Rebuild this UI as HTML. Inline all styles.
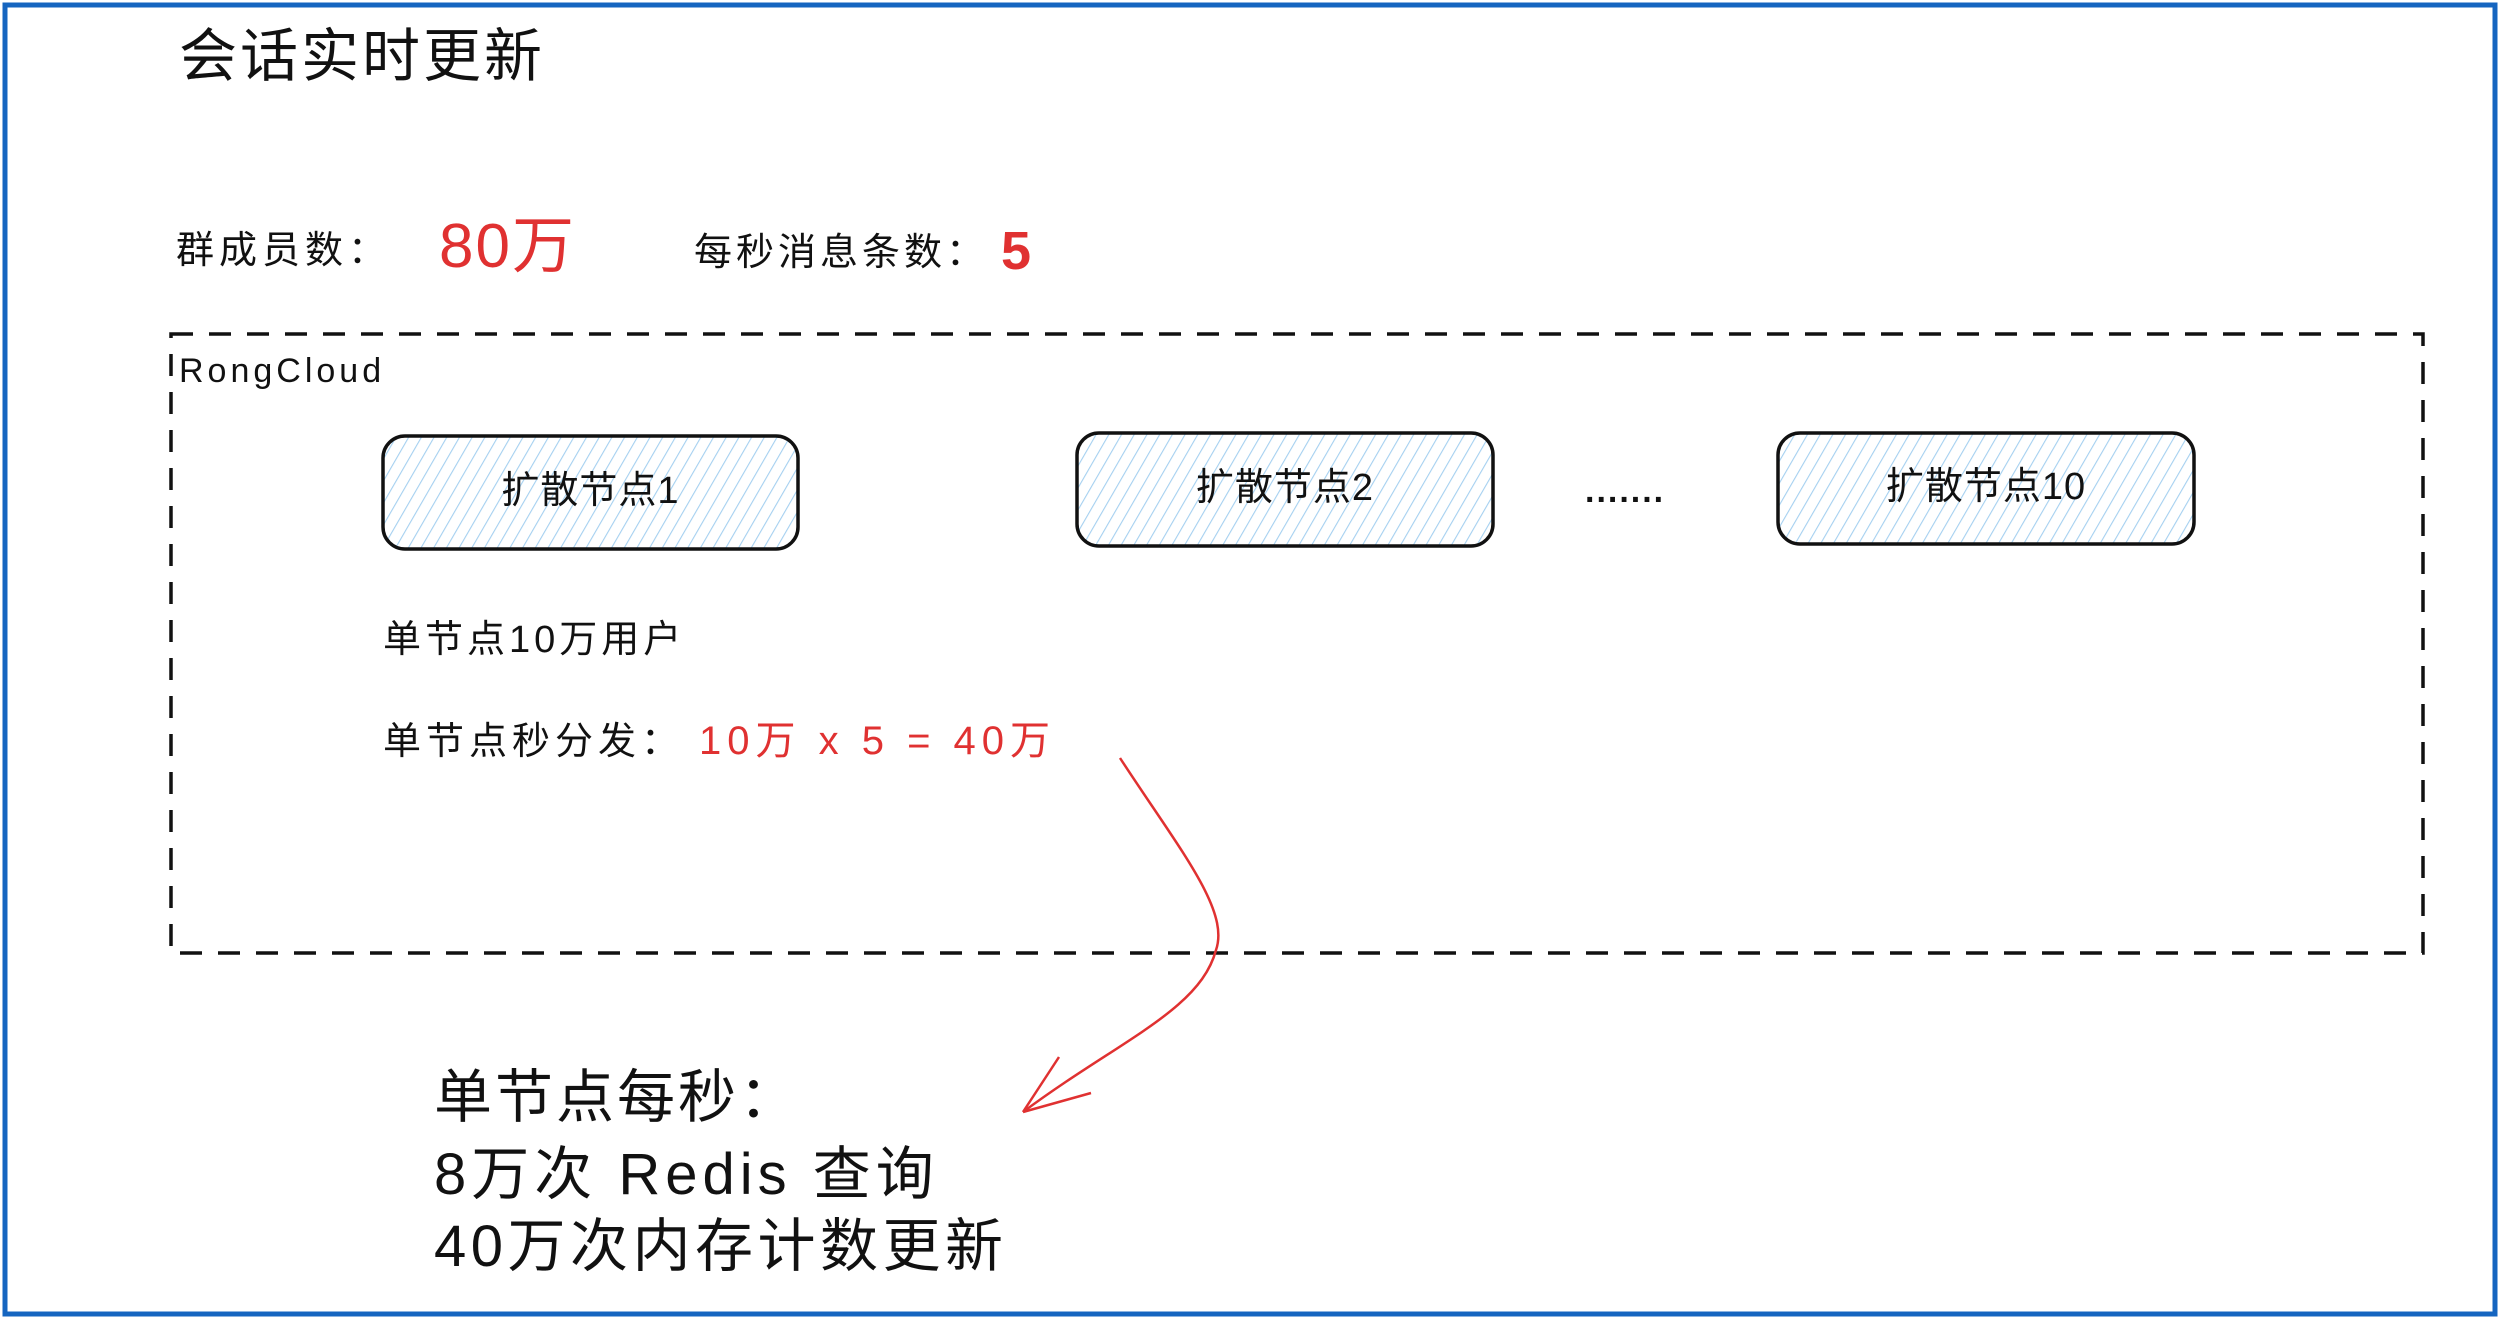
<!DOCTYPE html>
<html><head><meta charset="utf-8"><style>
html,body{margin:0;padding:0;background:#fff;}
body{width:2503px;height:1324px;position:relative;overflow:hidden;font-family:"Liberation Sans","Noto Sans CJK SC",sans-serif;color:#111;}
.t{position:absolute;white-space:nowrap;line-height:1;}
.r{color:#e03131;}
</style></head><body>
<svg width="2503" height="1324" style="position:absolute;left:0;top:0">
<defs>
<pattern id="h" width="11" height="11" patternUnits="userSpaceOnUse" patternTransform="rotate(30)">
<line x1="0" y1="0" x2="0" y2="11" stroke="#a5d0f0" stroke-width="2.2"/>
</pattern>
</defs>
<rect x="5" y="5" width="2490" height="1309" fill="none" stroke="#1565c0" stroke-width="5"/>
<rect x="171" y="334" width="2252" height="619" fill="none" stroke="#111" stroke-width="3.5" stroke-dasharray="22 16"/>
<rect x="383" y="436" width="415" height="113" rx="22" fill="url(#h)" stroke="#111" stroke-width="3.5"/>
<rect x="1077" y="433" width="416" height="113" rx="22" fill="url(#h)" stroke="#111" stroke-width="3.5"/>
<rect x="1778" y="433" width="416" height="111" rx="22" fill="url(#h)" stroke="#111" stroke-width="3.5"/>
<path d="M1120 758 C1180 850 1230 910 1216 950 C1200 1010 1120 1040 1023 1112" fill="none" stroke="#e03131" stroke-width="2.5"/>
<path d="M1023 1112 L1059 1057 M1023 1112 L1091 1093" fill="none" stroke="#e03131" stroke-width="2.5"/>
</svg>
<div class="t" style="left:179px;top:28px;font-size:58px;letter-spacing:3px;">会话实时更新</div>
<div class="t" style="left:176px;top:232px;font-size:38px;letter-spacing:5px;">群成员数：</div>
<div class="t r" style="left:439px;top:216px;font-size:62px;letter-spacing:2px;">80万</div>
<div class="t" style="left:694px;top:234px;font-size:38px;letter-spacing:4px;">每秒消息条数：</div>
<div class="t r" style="left:1001px;top:224px;font-size:54px;font-weight:bold;">5</div>
<div class="t" style="left:179px;top:354px;font-size:34px;letter-spacing:4px;">RongCloud</div>
<div class="t" style="left:383px;top:472px;width:415px;text-align:center;font-size:38px;letter-spacing:1px;">扩散节点1</div>
<div class="t" style="left:1077px;top:469px;width:416px;text-align:center;font-size:38px;letter-spacing:1px;">扩散节点2</div>
<div class="t" style="left:1778px;top:468px;width:416px;text-align:center;font-size:38px;letter-spacing:1px;">扩散节点10</div>
<div class="t" style="left:1585px;top:474px;font-size:34px;font-weight:bold;letter-spacing:2px;">.......</div>
<div class="t" style="left:383px;top:621px;font-size:38px;letter-spacing:4px;">单节点10万用户</div>
<div class="t" style="left:383px;top:723px;font-size:38px;letter-spacing:5px;">单节点秒分发：</div>
<div class="t r" style="left:699px;top:721px;font-size:40px;letter-spacing:6px;">10万 x 5 = 40万</div>
<div class="t" style="left:434px;top:1069px;font-size:58px;letter-spacing:3px;">单节点每秒：</div>
<div class="t" style="left:434px;top:1146px;font-size:58px;letter-spacing:5px;">8万次 Redis 查询</div>
<div class="t" style="left:434px;top:1218px;font-size:58px;letter-spacing:4.5px;">40万次内存计数更新</div>
</body></html>
